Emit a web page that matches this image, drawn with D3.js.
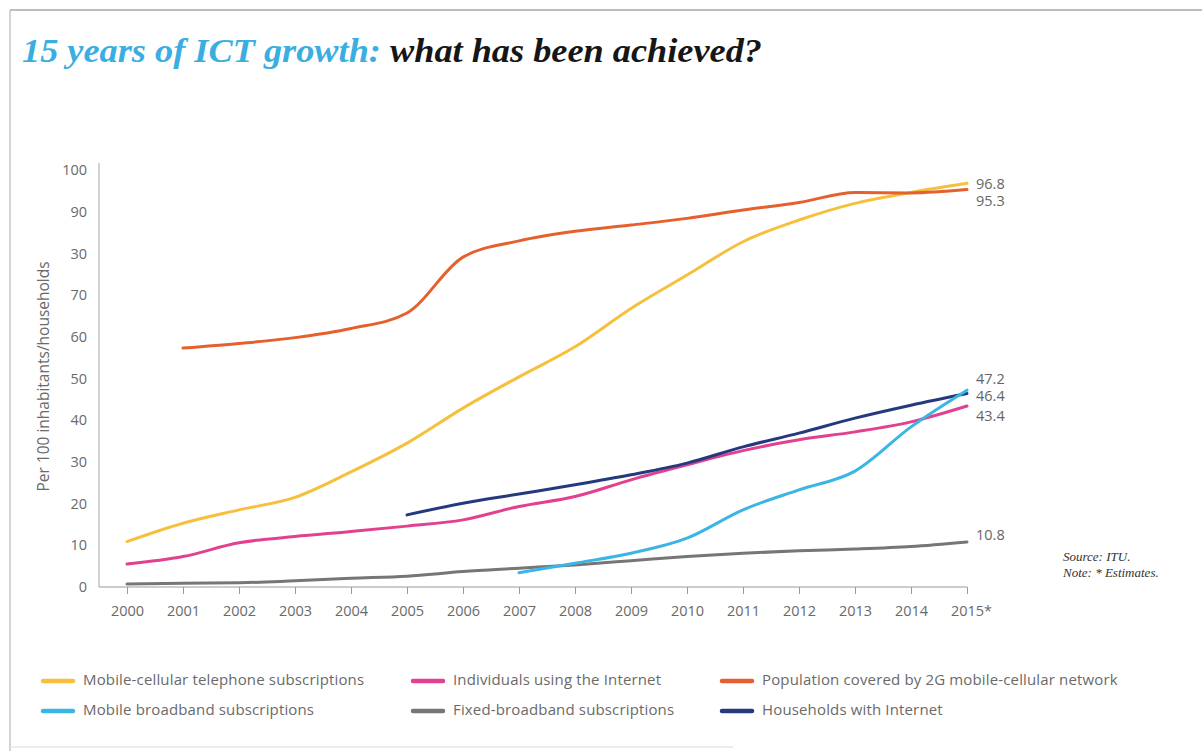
<!DOCTYPE html>
<html>
<head>
<meta charset="utf-8">
<script src="https://cdn.jsdelivr.net/npm/d3@7"></script>
<style>
  html, body { margin: 0; padding: 0; background: #fff; }
  svg { display: block; }
</style>
</head>
<body>
<svg id="chart" width="1202" height="751"></svg>
<script>
// ---- data (per 100 inhabitants / households) ----
const years = [2000, 2001, 2002, 2003, 2004, 2005, 2006, 2007, 2008, 2009, 2010, 2011, 2012, 2013, 2014, 2015];
const yearLabels = ["2000", "2001", "2002", "2003", "2004", "2005", "2006", "2007", "2008", "2009", "2010", "2011", "2012", "2013", "2014", "2015*"];
const yTickValues = [0, 10, 20, 30, 40, 50, 60, 70, 80, 90, 100];
const yTickLabels = ["0", "10", "20", "30", "40", "50", "60", "70", "30", "90", "100"];

const mobileCellular  = [10.9, 15.3, 18.5, 21.5, 27.6, 34.5, 42.9, 50.4, 57.6, 66.8, 74.8, 82.8, 88.0, 92.0, 94.6, 96.8];
const internetUsers   = [5.5, 7.3, 10.6, 12.1, 13.3, 14.6, 16.1, 19.3, 21.7, 25.7, 29.3, 32.7, 35.3, 37.2, 39.6, 43.4];
const coverage2G      = [null, 57.3, 58.4, 59.8, 62.0, 65.7, 79.1, 83.0, 85.3, 86.8, 88.4, 90.4, 92.2, 94.6, 94.5, 95.3];
const mobileBroadband = [null, null, null, null, null, null, null, 3.4, 5.7, 8.1, 11.7, 18.5, 23.3, 27.8, 38.4, 47.2];
const fixedBroadband  = [0.7, 0.9, 1.0, 1.5, 2.1, 2.6, 3.7, 4.5, 5.3, 6.3, 7.3, 8.1, 8.7, 9.1, 9.7, 10.8];
const households      = [null, null, null, null, null, 17.3, 20.1, 22.3, 24.5, 26.9, 29.7, 33.6, 36.9, 40.5, 43.6, 46.4];

const seriesNames = [
  "Mobile-cellular telephone subscriptions",
  "Individuals using the Internet",
  "Population covered by 2G mobile-cellular network",
  "Mobile broadband subscriptions",
  "Fixed-broadband subscriptions",
  "Households with Internet"
];
const seriesValues = [mobileCellular, internetUsers, coverage2G, mobileBroadband, fixedBroadband, households];
const seriesColors = ["#f6c03c", "#e2418f", "#e6602d", "#3ab5e6", "#767676", "#25397f"];
// the end value printed beside each line
const endLabels = ["96.8", "43.4", "95.3", "47.2", "10.8", "46.4"];

// ---- layout ----
const svg = d3.select("#chart");
const FONT = "'Open Sans', 'Liberation Sans', sans-serif";
const x = d3.scaleLinear().domain([2000, 2015]).range([127, 967]);
const y = d3.scaleLinear().domain([0, 100]).range([587, 170]);
const axisX = 99;

// frame
svg.append("line").attr("x1", 10).attr("x2", 1202).attr("y1", 10).attr("y2", 10)
  .attr("stroke", "#bdbdbd").attr("stroke-width", 2);
svg.append("line").attr("x1", 10).attr("x2", 10).attr("y1", 10).attr("y2", 751)
  .attr("stroke", "#c4c4c4").attr("stroke-width", 1.5);
svg.append("line").attr("x1", 10).attr("x2", 733).attr("y1", 747).attr("y2", 747)
  .attr("stroke", "#e6e6e6").attr("stroke-width", 1.5);

// title
const title = svg.append("text").attr("x", 22).attr("y", 62)
  .attr("font-family", "'Liberation Serif', 'DejaVu Serif', serif")
  .attr("font-style", "italic").attr("font-weight", "bold").attr("font-size", 33)
  .attr("textLength", 740).attr("lengthAdjust", "spacingAndGlyphs");
title.append("tspan").attr("fill", "#3aaee0").text("15 years of ICT growth: ");
title.append("tspan").attr("fill", "#161616").text("what has been achieved?");

// y axis
const yAxis = d3.axisLeft(y).tickValues(yTickValues)
  .tickFormat((d, i) => yTickLabels[i]).tickSize(0).tickPadding(12);
const gy = svg.append("g").attr("transform", `translate(${axisX},0)`).call(yAxis);
gy.select(".domain").remove();
gy.selectAll("text").attr("font-family", FONT).attr("font-size", 14.5).attr("fill", "#6a6a6a");
svg.append("line").attr("x1", axisX).attr("x2", axisX).attr("y1", 163).attr("y2", y(0))
  .attr("stroke", "#b5b5b5").attr("stroke-width", 1.2);

svg.append("text")
  .attr("transform", `translate(45,${(y(0) + y(100)) / 2 - 2}) rotate(-90)`)
  .attr("text-anchor", "middle").attr("dominant-baseline", "middle")
  .attr("font-family", FONT).attr("font-size", 15.5).attr("fill", "#6a6a6a")
  .text("Per 100 inhabitants/households");

// x axis
const xAxis = d3.axisBottom(x).tickValues(years)
  .tickFormat((d, i) => yearLabels[i]).tickSize(7).tickSizeOuter(0).tickPadding(12);
const gx = svg.append("g").attr("transform", `translate(0,${y(0)})`).call(xAxis);
gx.select(".domain").attr("d", `M${axisX},0H${x(2015)}`).attr("stroke", "#9a9a9a").attr("stroke-width", 1.2);
gx.selectAll(".tick line").attr("stroke", "#9a9a9a");
gx.selectAll("text").attr("font-family", FONT).attr("font-size", 14.5).attr("fill", "#6a6a6a");
gx.selectAll(".tick text").filter(d => d === 2015).attr("dx", 4);

// lines
const line = d3.line()
  .defined(d => d.v != null)
  .x(d => x(d.year))
  .y(d => y(d.v))
  .curve(d3.curveMonotoneX);

const drawOrder = [4, 1, 5, 0, 2, 3];
drawOrder.forEach(k => {
  const pts = years.map((yr, i) => ({ year: yr, v: seriesValues[k][i] }));
  svg.append("path").datum(pts)
    .attr("d", line)
    .attr("fill", "none")
    .attr("stroke", seriesColors[k])
    .attr("stroke-width", 3)
    .attr("stroke-linecap", "round")
    .attr("stroke-linejoin", "round");
});

// end value labels (small vertical nudges keep them apart)
const labelNudge = [2, 11, 13, -10, -6, 4];
seriesValues.forEach((vals, k) => {
  svg.append("text")
    .attr("x", x(2015) + 9)
    .attr("y", y(vals[vals.length - 1]) + labelNudge[k])
    .attr("dominant-baseline", "middle")
    .attr("font-family", FONT).attr("font-size", 14.5).attr("fill", "#666")
    .text(endLabels[k]);
});

// source note
const note = svg.append("text").attr("font-family", "'Liberation Serif', 'DejaVu Serif', serif")
  .attr("font-style", "italic").attr("font-size", 13).attr("fill", "#333");
note.append("tspan").attr("x", 1063).attr("y", 561).text("Source: ITU.");
note.append("tspan").attr("x", 1063).attr("y", 577).text("Note: * Estimates.");

// legend
const legendCols = [43, 413, 722];
const legendRows = [681, 711];
const legendOrder = [0, 1, 2, 3, 4, 5];
legendOrder.forEach((k, i) => {
  const lx = legendCols[i % 3];
  const ly = legendRows[Math.floor(i / 3)];
  const g = svg.append("g").attr("transform", `translate(${lx},${ly})`);
  g.append("line").attr("x1", 0).attr("x2", 30).attr("y1", 0).attr("y2", 0)
    .attr("stroke", seriesColors[k]).attr("stroke-width", 4.5).attr("stroke-linecap", "round");
  g.append("text").attr("x", 40).attr("y", 0).attr("dominant-baseline", "middle")
    .attr("font-family", FONT).attr("font-size", 15).attr("letter-spacing", 0.15).attr("fill", "#6a6a6a")
    .text(seriesNames[k]);
});
</script>
</body>
</html>
